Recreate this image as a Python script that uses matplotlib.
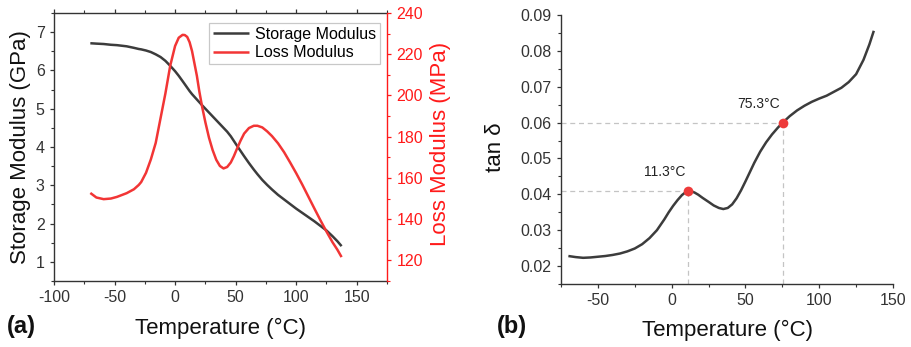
import matplotlib
matplotlib.use("Agg")
import matplotlib.pyplot as plt
from matplotlib.ticker import MultipleLocator

plt.rcParams['font.family'] = ['Liberation Sans', 'DejaVu Sans']
plt.rcParams['axes.unicode_minus'] = False

# ---- Panel (a): dynamic mechanical analysis, moduli vs temperature ----
temp_a = [-70, -65, -59, -53, -48, -40, -34, -30, -28, -24, -20, -16, -12, -8,
          -4, 0, 3, 6.2, 8, 10, 12, 14, 16, 18, 20, 22.3, 25, 28, 31, 34, 37,
          40, 43, 46, 48.5, 51, 54, 57, 61, 65, 68, 72, 76, 80, 85, 90, 95,
          100, 105, 110, 115, 120, 125, 130, 134, 137.5]
storage_gpa = [6.71, 6.70, 6.69, 6.67, 6.66, 6.63, 6.59, 6.56, 6.55, 6.52,
               6.48, 6.42, 6.35, 6.25, 6.12, 5.98, 5.86, 5.72, 5.64, 5.55,
               5.46, 5.38, 5.31, 5.24, 5.17, 5.09, 5.00, 4.90, 4.80, 4.70,
               4.60, 4.50, 4.40, 4.28, 4.16, 4.04, 3.90, 3.76, 3.58, 3.41,
               3.29, 3.14, 3.01, 2.89, 2.75, 2.63, 2.51, 2.39, 2.28, 2.17,
               2.06, 1.94, 1.82, 1.67, 1.54, 1.41]
loss_mpa = [152.7, 150.5, 149.7, 150.0, 150.8, 152.6, 154.5, 156.6, 158.0,
            162.5, 169.0, 177.0, 189.0, 201.0, 214.5, 224.0, 228.0, 229.4,
            229.3, 228.4, 225.8, 221.5, 215.5, 209.5, 202.0, 194.6, 187.0,
            179.5, 173.5, 168.8, 165.8, 164.6, 165.3, 167.5, 170.5, 174.0,
            178.0, 181.5, 184.2, 185.3, 185.3, 184.5, 182.6, 180.3, 176.8,
            172.5, 167.5, 162.3, 156.8, 151.0, 145.2, 139.5, 134.0, 128.8,
            125.2, 121.6]

# ---- Panel (b): loss factor ----
temp_b = [-70, -65, -60, -55, -50, -45, -40, -35, -30, -25, -20, -15, -10, -5,
          -2, 1, 4, 7, 9.5, 11.3, 13, 15.5, 18, 21, 25, 28.5, 32, 35, 38, 41,
          44, 47, 50, 53, 56, 60, 64, 68, 72, 75.3, 80, 85, 90, 95, 100, 105,
          110, 115, 120, 125, 130, 134, 137]
tan_delta = [0.0228, 0.0225, 0.0223, 0.0224, 0.0226, 0.0228, 0.0231, 0.0235,
             0.0241, 0.0249, 0.0261, 0.0278, 0.0300, 0.0330, 0.0350, 0.0368,
             0.0384, 0.0398, 0.0406, 0.0410, 0.0409, 0.0405, 0.0399, 0.0390,
             0.0379, 0.0369, 0.0362, 0.0359, 0.0362, 0.0372, 0.0389, 0.0411,
             0.0436, 0.0462, 0.0488, 0.0519, 0.0545, 0.0567, 0.0586, 0.0600,
             0.0618, 0.0634, 0.0647, 0.0658, 0.0667, 0.0675, 0.0686, 0.0697,
             0.0713, 0.0735, 0.0775, 0.0818, 0.0856]

peak_temps = [11.3, 75.3]
peak_values = [0.041, 0.060]
peak_labels = ['11.3°C', '75.3°C']

DARK = '#3c3c3c'
RED = '#f23535'
AXIS_RED = '#ff1a1a'
SPINE = '#333333'

fig = plt.figure(figsize=(9.11, 3.47), dpi=100)

TICK_FS = 11.5
LABEL_FS = 16
LINE_KW = dict(lw=1.8, solid_capstyle='butt', solid_joinstyle='round')


def style_ticks(ax, axis, color=SPINE, label_color=SPINE):
    ax.tick_params(axis=axis, which='major', direction='out', length=3.2,
                   width=0.9, color=color, labelcolor=label_color,
                   labelsize=TICK_FS, pad=3.5)
    ax.tick_params(axis=axis, which='minor', direction='out', length=2.2,
                   width=0.8, color=color)


# Panel (a)
ax1 = fig.add_axes([54 / 911, 66 / 347, 333 / 911, 268 / 347])
ax1.plot(temp_a, storage_gpa, color=DARK, label='Storage Modulus', **LINE_KW)
ax1.set_xlim(-100, 175)
ax1.set_ylim(0.5, 7.5)
ax1.xaxis.set_major_locator(MultipleLocator(50))
ax1.xaxis.set_minor_locator(MultipleLocator(25))
ax1.yaxis.set_major_locator(MultipleLocator(1))
ax1.yaxis.set_minor_locator(MultipleLocator(0.5))
style_ticks(ax1, 'x')
style_ticks(ax1, 'y')
ax1.tick_params(axis='x', which='both', top=True)
for side in ['left', 'bottom', 'top']:
    ax1.spines[side].set_color(SPINE)
    ax1.spines[side].set_linewidth(1.0)
ax1.spines['right'].set_visible(False)
ax1.set_ylabel('Storage Modulus (GPa)', fontsize=LABEL_FS, color='#111111')
ax1.yaxis.set_label_coords(-0.068, 0.501)
ax1.set_xlabel('Temperature (°C)', fontsize=LABEL_FS, color='#111111')
ax1.xaxis.set_label_coords(0.5, -0.138)

ax2 = ax1.twinx()
ax2.plot(temp_a, loss_mpa, color=RED, label='Loss Modulus', **LINE_KW)
ax2.set_ylim(110, 240)
ax2.yaxis.set_major_locator(MultipleLocator(20))
ax2.yaxis.set_minor_locator(MultipleLocator(10))
style_ticks(ax2, 'y', color=AXIS_RED, label_color=AXIS_RED)
ax2.spines['right'].set_color(AXIS_RED)
ax2.spines['right'].set_linewidth(1.0)
for side in ['left', 'top', 'bottom']:
    ax2.spines[side].set_visible(False)
ax2.set_ylabel('Loss Modulus (MPa)', fontsize=LABEL_FS, color=AXIS_RED)
ax2.yaxis.set_label_coords(1.129, 0.513)

handles = ax1.get_lines() + ax2.get_lines()
leg = ax2.legend(handles, [h.get_label() for h in handles], loc='upper right',
                 bbox_to_anchor=(0.979, 0.963), borderaxespad=0,
                 fontsize=11.5, frameon=True, fancybox=False,
                 handlelength=2.3, handletextpad=0.35, labelspacing=0.2,
                 borderpad=0.25)
leg.get_frame().set_edgecolor('#bbbbbb')
leg.get_frame().set_linewidth(0.9)

fig.text(21 / 911, 1 - 326 / 347, '(a)', fontsize=17, fontweight='bold',
         ha='center', va='center', color='#111111')

# Panel (b)
ax3 = fig.add_axes([561 / 911, 63 / 347, 332 / 911, 269 / 347])
ax3.plot(temp_b, tan_delta, color=DARK, zorder=3, **LINE_KW)
ax3.set_xlim(-75, 150)
ax3.set_ylim(0.015, 0.09)
ax3.xaxis.set_major_locator(MultipleLocator(50))
ax3.xaxis.set_minor_locator(MultipleLocator(25))
ax3.yaxis.set_major_locator(MultipleLocator(0.01))
ax3.yaxis.set_minor_locator(MultipleLocator(0.005))
ax3.yaxis.set_major_formatter(plt.FuncFormatter(lambda v, p: f'{v:.2f}'))
style_ticks(ax3, 'x')
style_ticks(ax3, 'y')
for side in ['left', 'bottom']:
    ax3.spines[side].set_color(SPINE)
    ax3.spines[side].set_linewidth(1.0)
for side in ['right', 'top']:
    ax3.spines[side].set_visible(False)

for t, v, lab in zip(peak_temps, peak_values, peak_labels):
    ax3.plot([-75, t], [v, v], color='#c4c4c4', lw=0.9, ls=(0, (4, 3)), zorder=1)
    ax3.plot([t, t], [0.015, v], color='#c4c4c4', lw=0.9, ls=(0, (4, 3)), zorder=1)
    ax3.plot([t], [v], 'o', color='#ee3b3b', ms=7, mec='none', zorder=4)
    ax3.annotate(lab, (t, v), xytext=(-17.3, 13.2), textcoords='offset points',
                 ha='center', va='center', fontsize=10, color='#222222')

ax3.set_ylabel('tan δ', fontsize=LABEL_FS, color='#111111')
ax3.yaxis.set_label_coords(-0.165, 0.509)
ax3.set_xlabel('Temperature (°C)', fontsize=LABEL_FS, color='#111111')
ax3.xaxis.set_label_coords(0.503, -0.134)

fig.text(512 / 911, 1 - 327 / 347, '(b)', fontsize=17, fontweight='bold',
         ha='center', va='center', color='#111111')

fig.savefig('out.png', dpi=100)
